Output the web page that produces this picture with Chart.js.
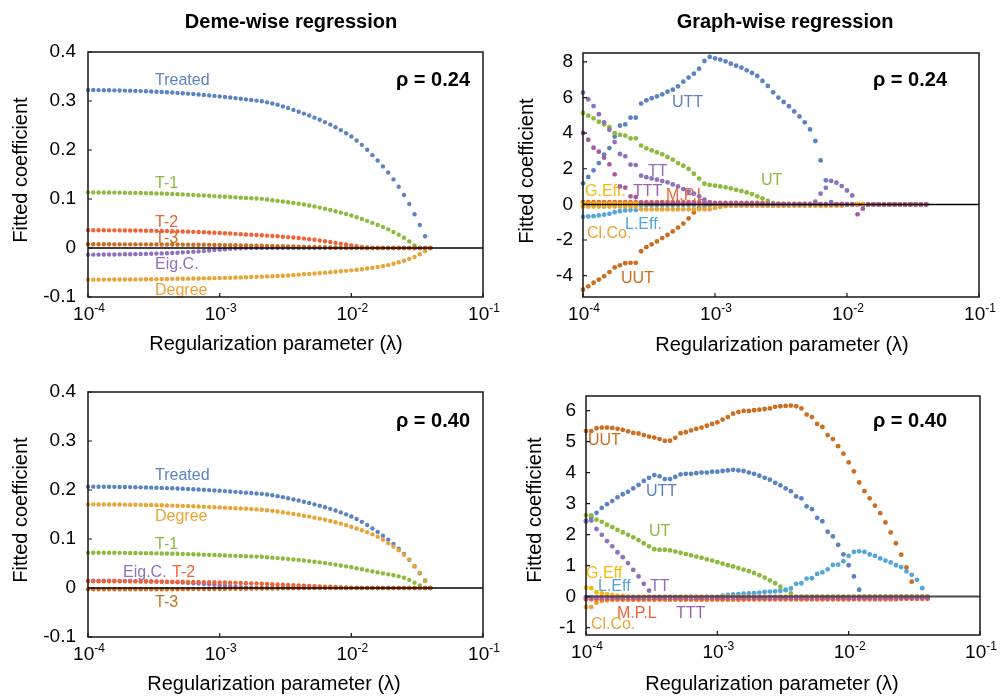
<!DOCTYPE html>
<html><head><meta charset="utf-8">
<script src="https://cdn.jsdelivr.net/npm/chart.js@4/dist/chart.umd.min.js"></script>
<style>
html,body{margin:0;padding:0;background:#fff;width:1000px;height:696px;overflow:hidden}
canvas{position:absolute;left:0;top:0;width:1000px;height:696px}
</style></head>
<body>
<canvas id="c1" width="1000" height="696"></canvas>
<canvas id="c2" width="1000" height="696"></canvas>
<canvas id="c3" width="1000" height="696"></canvas>
<canvas id="c4" width="1000" height="696"></canvas>
<script>
// ---------------- DATA ----------------
const LOG10_LAMBDA = [
-4.00,-3.96,-3.92,-3.88,-3.84,-3.80,-3.76,-3.72,-3.68,-3.64,
-3.60,-3.56,-3.52,-3.48,-3.44,-3.40,-3.36,-3.32,-3.28,-3.24,
-3.20,-3.16,-3.12,-3.08,-3.04,-3.00,-2.96,-2.92,-2.88,-2.84,
-2.80,-2.76,-2.72,-2.68,-2.64,-2.60,-2.56,-2.52,-2.48,-2.44,
-2.40,-2.36,-2.32,-2.28,-2.24,-2.20,-2.16,-2.12,-2.08,-2.04,
-2.00,-1.96,-1.92,-1.88,-1.84,-1.80,-1.76,-1.72,-1.68,-1.64,
-1.60,-1.56,-1.52,-1.48,-1.44,-1.40];

const X_TICKS = [1e-4, 1e-3, 1e-2, 1e-1];
const X_TICK_BASE = '10';
const X_TICK_EXP = ['-4', '-3', '-2', '-1'];
const DEME_Y_TICKS = [-0.1, 0, 0.1, 0.2, 0.3, 0.4];
const DEME_Y_LABELS = ['-0.1', '0', '0.1', '0.2', '0.3', '0.4'];
const G24_Y_TICKS = [-4, -2, 0, 2, 4, 6, 8];
const G24_Y_LABELS = ['-4', '-2', '0', '2', '4', '6', '8'];
const G40_Y_TICKS = [-1, 0, 1, 2, 3, 4, 5, 6];
const G40_Y_LABELS = ['-1', '0', '1', '2', '3', '4', '5', '6'];

// Deme-wise, rho = 0.24
const DW24_TREATED = [
.3224,.3223,.3222,.3221,.3219,.3217,.3215,.3212,.3209,.3206,
.3202,.3198,.3194,.3189,.3184,.3178,.3172,.3165,.3158,.3150,
.3142,.3133,.3124,.3114,.3104,.3094,.3083,.3071,.3059,.3046,
.3034,.3021,.3008,.2994,.2972,.2950,.2923,.2890,.2855,.2818,
.2782,.2743,.2703,.2660,.2616,.2569,.2518,.2465,.2406,.2343,
.2275,.2195,.2105,.2005,.1895,.1785,.1665,.1540,.1400,.1250,
.1082,.0898,.0688,.0469,.0239,0];
const DW24_T1 = [
.1136,.1135,.1134,.1133,.1132,.1131,.1130,.1128,.1126,.1124,
.1122,.1120,.1117,.1114,.1111,.1107,.1103,.1099,.1094,.1089,
.1084,.1078,.1072,.1066,.1059,.1052,.1046,.1040,.1034,.1028,
.1022,.1016,.1010,.1003,.0990,.0976,.0962,.0948,.0934,.0920,
.0905,.0887,.0867,.0846,.0824,.0800,.0776,.0750,.0722,.0694,
.0662,.0628,.0593,.0554,.0513,.0471,.0428,.0381,.0328,.0272,
.0210,.0135,.0050,0,0,0];
const DW24_T2 = [
.0362,.0362,.0361,.0361,.0360,.0360,.0359,.0358,.0357,.0356,
.0355,.0353,.0352,.0350,.0348,.0346,.0343,.0340,.0337,.0334,
.0330,.0326,.0322,.0317,.0312,.0307,.0301,.0295,.0289,.0283,
.0277,.0271,.0265,.0259,.0253,.0246,.0239,.0231,.0222,.0213,
.0203,.0192,.0180,.0167,.0153,.0138,.0122,.0105,.0088,.0071,
.0054,.0038,.0023,.0010,.0003,0,0,0,0,0,
0,0,0,0,0,0];
const DW24_T3 = [
.0076,.0076,.0076,.0076,.0076,.0075,.0075,.0075,.0075,.0074,
.0074,.0074,.0073,.0073,.0072,.0072,.0071,.0070,.0069,.0068,
.0067,.0066,.0065,.0064,.0062,.0061,.0059,.0057,.0055,.0053,
.0051,.0049,.0047,.0045,.0043,.0040,.0038,.0035,.0033,.0030,
.0027,.0025,.0022,.0019,.0017,.0014,.0012,.0010,.0008,.0006,
.0004,.0003,.0002,.0001,0,0,0,0,0,0,
0,0,0,0,0,0];
const DW24_EIGC = [
-.0136,-.0136,-.0135,-.0134,-.0133,-.0132,-.0131,-.0129,-.0127,-.0125,
-.0123,-.0120,-.0117,-.0114,-.0110,-.0106,-.0101,-.0096,-.0090,-.0084,
-.0077,-.0069,-.0061,-.0052,-.0043,-.0034,-.0025,-.0017,-.0010,-.0005,
-.0002,0,0,0,0,0,0,0,0,0,
0,0,0,0,0,0,0,0,0,0,
0,0,0,0,0,0,0,0,0,0,
0,0,0,0,0,0];
const DW24_DEGREE = [
-.0646,-.0646,-.0646,-.0645,-.0645,-.0644,-.0644,-.0643,-.0642,-.0641,
-.0640,-.0639,-.0638,-.0636,-.0635,-.0633,-.0631,-.0629,-.0627,-.0625,
-.0623,-.0621,-.0619,-.0617,-.0615,-.0612,-.0609,-.0606,-.0603,-.0600,
-.0597,-.0593,-.0589,-.0585,-.0580,-.0575,-.0570,-.0565,-.0560,-.0552,
-.0544,-.0537,-.0529,-.0520,-.0511,-.0503,-.0494,-.0485,-.0476,-.0466,
-.0456,-.0445,-.0433,-.0419,-.0404,-.0388,-.0370,-.0350,-.0320,-.0290,
-.0259,-.0222,-.0184,-.0129,-.0061,0];

// Deme-wise, rho = 0.40
const DW40_TREATED = [
.2068,.2068,.2067,.2066,.2065,.2064,.2062,.2061,.2059,.2057,
.2054,.2052,.2049,.2046,.2043,.2039,.2035,.2030,.2026,.2021,
.2016,.2010,.2004,.1998,.1991,.1985,.1978,.1970,.1962,.1954,
.1946,.1938,.1930,.1921,.1907,.1892,.1875,.1854,.1831,.1808,
.1785,.1760,.1734,.1706,.1678,.1648,.1615,.1581,.1543,.1503,
.1459,.1408,.1350,.1286,.1216,.1145,.1068,.0988,.0898,.0802,
.0694,.0576,.0441,.0301,.0153,0];
const DW40_DEGREE = [
.1707,.1707,.1706,.1706,.1705,.1704,.1703,.1702,.1700,.1699,
.1697,.1695,.1693,.1691,.1688,.1685,.1682,.1679,.1676,.1672,
.1668,.1664,.1659,.1655,.1649,.1645,.1640,.1634,.1628,.1622,
.1616,.1610,.1604,.1597,.1586,.1575,.1562,.1547,.1529,.1512,
.1495,.1476,.1457,.1436,.1415,.1392,.1367,.1342,.1313,.1283,
.1250,.1215,.1178,.1140,.1095,.1045,.0985,.0915,.0845,.0770,
.0680,.0580,.0450,.0310,.0140,0];
const DW40_T1 = [
.0721,.0720,.0720,.0719,.0718,.0718,.0717,.0716,.0715,.0713,
.0712,.0711,.0709,.0707,.0705,.0703,.0700,.0698,.0694,.0691,
.0688,.0684,.0680,.0677,.0672,.0668,.0664,.0660,.0656,.0652,
.0649,.0645,.0641,.0637,.0628,.0619,.0610,.0601,.0592,.0583,
.0573,.0561,.0549,.0536,.0523,.0508,.0493,.0477,.0460,.0442,
.0423,.0403,.0382,.0360,.0339,.0318,.0298,.0279,.0260,.0238,
.0210,.0163,.0109,.0054,0,0];
const DW40_EIGC = [
.0150,.0150,.0149,.0149,.0148,.0147,.0146,.0145,.0143,.0141,
.0139,.0137,.0134,.0131,.0128,.0124,.0120,.0115,.0110,.0104,
.0098,.0091,.0083,.0075,.0066,.0057,.0047,.0037,.0027,.0018,
.0010,.0004,0,0,0,0,0,0,0,0,
0,0,0,0,0,0,0,0,0,0,
0,0,0,0,0,0,0,0,0,0,
0,0,0,0,0,0];
const DW40_T2 = [
.0138,.0138,.0138,.0137,.0137,.0137,.0136,.0136,.0135,.0135,
.0134,.0133,.0133,.0132,.0131,.0130,.0129,.0128,.0127,.0125,
.0124,.0122,.0120,.0118,.0116,.0114,.0111,.0108,.0105,.0102,
.0099,.0095,.0091,.0087,.0083,.0079,.0074,.0069,.0064,.0059,
.0054,.0049,.0044,.0039,.0034,.0029,.0024,.0019,.0015,.0011,
.0008,.0005,.0003,.0001,0,0,0,0,0,0,
0,0,0,0,0,0];
const DW40_T3 = [
-.0028,-.0028,-.0028,-.0028,-.0028,-.0027,-.0027,-.0027,-.0027,-.0027,
-.0026,-.0026,-.0026,-.0025,-.0025,-.0025,-.0024,-.0024,-.0023,-.0023,
-.0022,-.0022,-.0021,-.0020,-.0020,-.0019,-.0018,-.0017,-.0016,-.0015,
-.0014,-.0013,-.0012,-.0011,-.0010,-.0009,-.0008,-.0007,-.0006,-.0005,
-.0004,-.0003,-.0003,-.0002,-.0002,-.0001,-.0001,0,0,0,
0,0,0,0,0,0,0,0,0,0,
0,0,0,0,0,0];

// Graph-wise, rho = 0.24
const GW24_UTT = [
1.18,1.54,1.91,2.32,2.79,3.16,3.80,4.42,4.49,4.87,
4.87,5.66,5.84,5.96,6.07,6.18,6.33,6.44,6.63,6.89,
7.12,7.34,7.62,8.05,8.28,8.20,8.13,8.03,7.90,7.79,
7.68,7.53,7.38,7.21,6.93,6.65,6.29,6.00,5.75,5.51,
5.22,4.94,4.61,4.21,3.56,2.47,1.35,0.13,0,0,
0,0,0,0,0,0,0,0,0,0,
0,0,0,0,0,0];
const GW24_TT = [
6.27,5.90,5.52,5.06,4.61,4.19,3.50,2.83,2.70,2.23,
2.21,1.61,1.53,1.46,1.39,1.31,1.24,1.12,1.01,0.86,
0.71,0.60,0.45,0.26,0.10,0.02,0,0,0,0,
0,0,0,0,0,0,0,0,0,0,
0,0,0,0,0.15,0.60,0.93,1.32,1.22,1.03,
0.78,0.50,0,0,0,0,0,0,0,0,
0,0,0,0,0,0];
const GW24_TTT = [
4.01,3.63,3.18,2.96,2.62,2.25,1.69,1.01,0.94,0.45,
0.41,0.10,0.06,0.05,0.05,0.05,0.05,0.05,0.05,0.05,
0.05,0.05,0.05,0.05,0.05,0.05,0.05,0.05,0.05,0.05,
0.04,0.04,0.04,0.04,0.03,0.03,0.03,0.03,0.02,0.02,
0.02,0.02,0.02,0.02,0.02,0.01,0.01,0.01,0.01,0.01,
0.01,0.01,-0.56,-0.24,0,0,0,0,0,0,
0,0,0,0,0,0];
const GW24_UT = [
5.13,4.98,4.83,4.64,4.49,4.34,4.00,3.90,3.86,3.71,
3.71,3.30,3.15,3.03,2.92,2.81,2.66,2.51,2.32,2.17,
1.99,1.72,1.45,1.16,1.09,1.05,1.01,0.96,0.90,0.82,
0.75,0.67,0.58,0.45,0.34,0.19,0.06,0,0,0,
0,0,0,0,0,0,0,0,0,0,
0,0,0,0,0,0,0,0,0,0,
0,0,0,0,0,0];
const GW24_UUT = [
-4.79,-4.60,-4.40,-4.22,-4.03,-3.80,-3.54,-3.42,-3.30,-3.28,
-3.28,-2.63,-2.40,-2.25,-2.08,-1.89,-1.72,-1.52,-1.30,-1.08,
-0.79,-0.45,-0.19,-0.08,-0.05,-0.05,-0.05,-0.05,-0.05,-0.05,
-0.05,-0.05,-0.05,-0.05,-0.05,-0.05,-0.05,-0.05,-0.05,-0.05,
-0.04,-0.04,-0.04,-0.04,-0.03,-0.03,-0.03,-0.02,-0.02,-0.02,
0,0,0,0,0,0,0,0,0,0,
0,0,0,0,0,0];
const GW24_GEFF = [
0.03,0.03,0.03,0.03,0.03,0.03,0.03,0.03,0.03,0.03,
0.03,0.03,0.03,0.03,0.03,0.03,0.03,0.03,0.03,0.03,
0.02,0.02,0.02,0.02,0.02,0.02,0.02,0.02,0.02,0.02,
0.02,0.02,0.02,0.02,0.02,0.02,0.02,0.02,0.02,0.02,
0.01,0.01,0.01,0.01,0.01,0.01,0.01,0.01,0.01,0.01,
0.01,0.01,0.01,0.01,0,0,0,0,0,0,
0,0,0,0,0,0];
const GW24_LEFF = [
-0.70,-0.68,-0.66,-0.62,-0.58,-0.53,-0.44,-0.38,-0.34,-0.32,
-0.32,-0.06,-0.05,-0.05,-0.05,-0.05,-0.05,-0.05,-0.04,-0.04,
-0.04,-0.04,-0.04,-0.03,-0.03,-0.03,-0.03,-0.02,-0.02,-0.02,
0,0,0,0,0,0,0,0,0,0,
0,0,0,0,0,0,0,0,0,0,
0,0,0,0,0,0,0,0,0,0,
0,0,0,0,0,0];
const GW24_CLCO = [
-0.12,-0.12,-0.12,-0.12,-0.12,-0.12,-0.12,-0.12,-0.12,-0.12,
-0.12,-0.28,-0.28,-0.28,-0.28,-0.28,-0.28,-0.28,-0.28,-0.28,
-0.28,-0.28,-0.28,-0.28,-0.28,-0.20,-0.14,-0.10,-0.07,-0.07,
-0.07,-0.07,-0.07,-0.07,-0.07,-0.07,-0.07,-0.07,-0.07,-0.07,
-0.07,-0.07,-0.07,-0.07,-0.07,-0.07,-0.07,-0.07,-0.07,-0.07,
0,0,0,0,0,0,0,0,0,0,
0,0,0,0,0,0];
const GW24_MPL = [
0.12,0.12,0.12,0.12,0.12,0.12,0.12,0.12,0.12,0.12,
0.12,0.12,0.12,0.12,0.12,0.12,0.12,0.12,0.12,0.12,
0.12,0.12,0.12,0.12,0.12,0.08,0.08,0.08,0.08,0.08,
0.08,0.08,0.08,0.08,0.08,0.03,0.03,0.03,0.03,0.03,
0.03,0.03,0.03,0.03,0.03,0,0,0,0,0,
0,0,0,0,0,0,0,0,0,0,
0,0,0,0,0,0];

// Graph-wise, rho = 0.40
const GW40_UUT = [
5.34,5.34,5.43,5.45,5.45,5.44,5.41,5.38,5.33,5.28,
5.26,5.21,5.16,5.13,5.08,5.02,5.03,5.12,5.27,5.30,
5.36,5.41,5.45,5.51,5.57,5.62,5.71,5.79,5.90,5.95,
5.99,5.99,6.01,6.03,6.05,6.07,6.12,6.14,6.15,6.16,
6.14,6.07,5.87,5.79,5.57,5.47,5.21,5.08,4.85,4.61,
4.33,4.04,3.68,3.40,3.17,2.93,2.69,2.39,2.07,1.72,
1.35,0.94,0.48,-0.05,-0.05,-0.05];
const GW40_UTT = [
2.42,2.55,2.70,2.86,2.98,3.08,3.20,3.30,3.38,3.49,
3.60,3.73,3.83,3.92,3.88,3.79,3.79,3.86,3.94,3.96,
3.96,3.98,4.00,4.00,4.03,4.03,4.05,4.07,4.09,4.07,
4.05,4.00,3.96,3.90,3.83,3.77,3.67,3.59,3.49,3.40,
3.23,3.17,2.91,2.82,2.54,2.43,2.09,1.94,1.67,1.36,
1.01,0.65,0.22,0,0,0,0,0,0,0,
0,0,0,0,0,0];
const GW40_UT = [
2.62,2.62,2.48,2.41,2.32,2.24,2.15,2.07,1.99,1.91,
1.82,1.72,1.62,1.53,1.51,1.51,1.49,1.45,1.41,1.37,
1.33,1.29,1.25,1.20,1.16,1.11,1.06,1.01,0.97,0.92,
0.87,0.82,0.76,0.69,0.61,0.52,0.43,0.32,0.20,0.10,
0,0,0,0,0,0,0,0,0,0,
0,0,0,0,0,0,0,0,0,0,
0,0,0,0,0,0];
const GW40_TT = [
2.45,2.45,2.18,1.99,1.79,1.62,1.43,1.27,1.08,0.86,
0.65,0.41,0.19,-0.02,-0.02,-0.02,-0.02,-0.02,-0.02,-0.02,
-0.02,-0.02,-0.02,-0.02,-0.02,-0.02,-0.02,-0.02,-0.02,-0.02,
-0.02,-0.02,-0.02,-0.02,-0.02,-0.02,-0.02,-0.02,-0.02,-0.02,
-0.02,-0.02,-0.02,-0.02,-0.02,-0.02,-0.02,-0.02,-0.02,-0.02,
-0.02,-0.02,-0.02,-0.02,-0.02,-0.02,-0.02,-0.02,-0.02,-0.02,
-0.02,-0.02,-0.02,-0.02,-0.02,-0.02];
const GW40_LEFF = [
-0.02,-0.02,-0.02,-0.02,-0.02,-0.02,-0.02,-0.02,-0.02,-0.02,
-0.02,-0.02,-0.02,-0.02,-0.02,-0.02,-0.02,-0.02,-0.02,-0.02,
-0.02,-0.02,-0.02,-0.02,-0.02,-0.02,0.03,0.05,0.07,0.08,
0.09,0.10,0.11,0.13,0.15,0.16,0.17,0.18,0.22,0.26,
0.41,0.43,0.58,0.59,0.73,0.78,0.88,1.02,1.03,1.14,
1.31,1.44,1.46,1.44,1.36,1.31,1.23,1.16,1.10,1.01,
0.95,0.81,0.70,0.54,0.27,-0.02];
const GW40_GEFF = [
0.29,0.27,0.14,0.10,0.07,0.05,0.03,0.02,0,0,
0,0,0,0,0,0,0,0,0,0,
0,0,0,0,0,0,0,0,0,0,
0,0,0,0,0,0,0,0,0,0,
0,0,0,0,0,0,0,0,0,0,
0,0,0,0,0,0,0,0,0,0,
0,0,0,0,0,0];
const GW40_CLCO = [
-0.34,-0.34,-0.20,-0.14,-0.12,-0.10,-0.10,-0.10,-0.10,-0.10,
-0.10,-0.10,-0.10,-0.10,-0.10,-0.10,-0.10,-0.10,-0.10,-0.10,
-0.10,-0.10,-0.10,-0.10,-0.10,-0.10,-0.10,-0.10,-0.10,-0.10,
-0.10,-0.08,-0.08,-0.08,-0.08,-0.08,-0.08,-0.08,-0.08,-0.08,
-0.08,-0.08,-0.08,-0.08,-0.08,-0.08,-0.08,-0.08,-0.08,-0.08,
-0.08,-0.06,-0.06,-0.06,-0.06,-0.06,-0.06,-0.06,-0.06,-0.06,
-0.06,-0.06,-0.06,-0.06,-0.06,-0.06];
const GW40_MPL = [
-0.09,-0.09,-0.09,-0.09,-0.09,-0.09,-0.09,-0.09,-0.09,-0.09,
-0.09,-0.09,-0.09,-0.09,-0.09,-0.09,-0.09,-0.09,-0.09,-0.09,
-0.09,-0.09,-0.09,-0.09,-0.09,-0.09,-0.09,-0.09,-0.09,-0.09,
-0.09,-0.09,-0.09,-0.09,-0.09,-0.09,-0.09,-0.09,-0.09,-0.09,
-0.09,-0.09,-0.09,-0.09,-0.09,-0.09,-0.09,-0.09,-0.09,-0.09,
-0.09,-0.09,-0.09,-0.09,-0.09,-0.09,-0.09,-0.09,-0.09,-0.09,
-0.07,-0.07,-0.07,-0.07,-0.07,-0.07];
const GW40_TTT = [
-0.03,-0.03,-0.03,-0.03,-0.03,-0.03,-0.03,-0.03,-0.03,-0.03,
-0.03,-0.03,-0.03,-0.03,-0.03,-0.03,-0.03,-0.03,-0.03,-0.03,
-0.03,-0.03,-0.03,-0.03,-0.03,-0.03,-0.03,-0.03,-0.03,-0.03,
-0.03,-0.03,-0.03,-0.03,-0.03,-0.03,-0.03,-0.03,-0.03,-0.03,
-0.03,-0.03,-0.03,-0.03,-0.03,-0.03,-0.03,-0.03,-0.03,-0.03,
-0.03,-0.03,-0.03,-0.03,-0.03,-0.03,-0.03,-0.03,-0.03,-0.03,
-0.03,-0.03,-0.03,-0.03,-0.03,-0.03];

// ---------------- STYLE ----------------
const FONT = '"Liberation Sans", Arial, Helvetica, sans-serif';
const C = {
  blue: '#5b83c4', green: '#8cba3e', red: '#ef6336', dkorange: '#cc6d1f',
  purple: '#8e70bd', orange: '#eaa335', yellow: '#f7b70c', ltblue: '#52a6d8',
  magenta: '#a659a6', tttLabel: '#9f60b4'
};
const Y_SCALE_W = 80;

function pts(vals) {
  return LOG10_LAMBDA.map((e, i) => ({ x: Math.pow(10, e), y: vals[i] }));
}
function ds(vals, color, r) {
  return { data: pts(vals), backgroundColor: color, borderWidth: 0, pointRadius: r,
           pointHoverRadius: r, showLine: false, clip: false };
}

const decor = {
  id: 'decor',
  beforeDatasetsDraw(chart, args, o) {
    const ctx = chart.ctx;
    ctx.save();
    ctx.font = '16px ' + FONT;
    ctx.textAlign = 'left'; ctx.textBaseline = 'alphabetic';
    o.labels.forEach(l => { ctx.fillStyle = l.c; ctx.fillText(l.t, l.x, l.y); });
    ctx.restore();
  },
  afterDraw(chart, args, o) {
    const { ctx, chartArea: a, scales: { x, y } } = chart;
    ctx.save();
    // zero line
    const y0 = y.getPixelForValue(0);
    ctx.strokeStyle = o.zeroColor; ctx.lineWidth = o.zeroWidth;
    ctx.beginPath(); ctx.moveTo(a.left, y0); ctx.lineTo(a.right, y0); ctx.stroke();
    // frame
    ctx.strokeStyle = '#161616'; ctx.lineWidth = 1.5;
    ctx.strokeRect(a.left, a.top, a.right - a.left, a.bottom - a.top);
    // inward tick marks
    ctx.lineWidth = 1.2; ctx.beginPath();
    x.ticks.forEach(t => { const px = x.getPixelForValue(t.value); ctx.moveTo(px, a.bottom); ctx.lineTo(px, a.bottom - 4); });
    y.ticks.forEach(t => { const py = y.getPixelForValue(t.value); ctx.moveTo(a.left, py); ctx.lineTo(a.left + 4, py); });
    ctx.stroke();
    // x tick labels: 10 with superscript exponent
    ctx.fillStyle = '#000'; ctx.textAlign = 'left'; ctx.textBaseline = 'alphabetic';
    x.ticks.forEach((t, i) => {
      const px = x.getPixelForValue(t.value);
      ctx.font = '19px ' + FONT; const wb = ctx.measureText(X_TICK_BASE).width;
      ctx.font = '12px ' + FONT; const we = ctx.measureText(X_TICK_EXP[i]).width;
      const x0 = px - (wb + we) / 2 + 1;
      const by = a.bottom + 23;
      ctx.font = '19px ' + FONT; ctx.fillText(X_TICK_BASE, x0, by);
      ctx.font = '12px ' + FONT; ctx.fillText(X_TICK_EXP[i], x0 + wb, by - 8);
    });
    // x axis title
    ctx.font = '20px ' + FONT; ctx.textAlign = 'center';
    ctx.fillText('Regularization parameter (\u03bb)', o.xTitle[0], o.xTitle[1]);
    // y axis title
    ctx.save();
    ctx.translate(o.yTitle[0], o.yTitle[1]); ctx.rotate(-Math.PI / 2);
    ctx.textBaseline = 'middle'; ctx.fillText('Fitted coefficient', 0, 0);
    ctx.restore();
    // panel title
    if (o.title) {
      ctx.font = 'bold 20px ' + FONT; ctx.textAlign = 'center'; ctx.textBaseline = 'alphabetic';
      ctx.fillText(o.title[0], o.title[1], o.title[2]);
    }
    // rho
    ctx.font = 'bold 20px ' + FONT; ctx.textAlign = 'right'; ctx.textBaseline = 'alphabetic';
    ctx.fillText(o.rho[0], o.rho[1], o.rho[2]);
    ctx.restore();
  }
};

function makeChart(id, area, yr, yTicks, yLabels, yPad, datasets, deco) {
  new Chart(document.getElementById(id), {
    type: 'scatter',
    data: { datasets },
    options: {
      responsive: false, animation: false, devicePixelRatio: 1, events: [],
      layout: { padding: { left: area.l - Y_SCALE_W, top: area.t, right: 1000 - area.r, bottom: 696 - area.b - 10 } },
      scales: {
        x: {
          type: 'logarithmic', min: 1e-4, max: 1e-1,
          grid: { display: false, drawTicks: false }, border: { display: false },
          ticks: { display: false },
          afterBuildTicks: s => { s.ticks = X_TICKS.map(v => ({ value: v })); },
          afterFit: s => { s.height = 10; }
        },
        y: {
          min: yr[0], max: yr[1],
          grid: { display: false, drawTicks: false }, border: { display: false },
          ticks: { color: '#000', padding: yPad, autoSkip: false, font: { family: FONT, size: 19 },
                   callback: (v, i) => yLabels[i] },
          afterBuildTicks: s => { s.ticks = yTicks.map(v => ({ value: v })); },
          afterFit: s => { s.width = Y_SCALE_W; }
        }
      },
      plugins: { legend: { display: false }, tooltip: { enabled: false }, decor: deco }
    },
    plugins: [decor]
  });
}

// Top-left: deme-wise, rho 0.24
makeChart('c1', { l: 88, t: 52, r: 483, b: 297 }, [-0.1, 0.4], DEME_Y_TICKS, DEME_Y_LABELS, 12, [
  ds(DW24_T3, C.dkorange, 2.2), ds(DW24_DEGREE, C.orange, 2.2), ds(DW24_T2, C.red, 2.2),
  ds(DW24_EIGC, C.purple, 2.2), ds(DW24_T1, C.green, 2.2), ds(DW24_TREATED, C.blue, 2.2)
], {
  zeroColor: '#000', zeroWidth: 1.5, xTitle: [276, 350], yTitle: [21, 170],
  title: ['Deme-wise regression', 291, 28], rho: ['\u03c1 = 0.24', 470, 86],
  labels: [
    { t: 'Treated', x: 155, y: 85, c: C.blue }, { t: 'T-1', x: 155, y: 188, c: C.green },
    { t: 'T-2', x: 155, y: 227, c: C.red }, { t: 'T-3', x: 155, y: 243, c: C.dkorange },
    { t: 'Eig.C.', x: 155, y: 269, c: C.purple }, { t: 'Degree', x: 155, y: 295, c: C.orange }
  ]
});

// Top-right: graph-wise, rho 0.24
makeChart('c2', { l: 583, t: 53, r: 979, b: 297 }, [-5.2, 8.5], G24_Y_TICKS, G24_Y_LABELS, 10, [
  ds(GW24_TTT, C.magenta, 2.4), ds(GW24_GEFF, C.yellow, 2.4), ds(GW24_TT, C.purple, 2.4),
  ds(GW24_MPL, C.red, 2.4), ds(GW24_CLCO, C.orange, 2.4), ds(GW24_LEFF, C.ltblue, 2.4),
  ds(GW24_UUT, C.dkorange, 2.4), ds(GW24_UT, C.green, 2.4), ds(GW24_UTT, C.blue, 2.4)
], {
  zeroColor: '#000', zeroWidth: 1.5, xTitle: [782, 351], yTitle: [527, 171],
  title: ['Graph-wise regression', 785, 28], rho: ['\u03c1 = 0.24', 947, 86],
  labels: [
    { t: 'UTT', x: 672, y: 107, c: C.blue }, { t: 'TT', x: 648, y: 176, c: C.purple },
    { t: 'UT', x: 761, y: 185, c: C.green }, { t: 'G.Eff.', x: 585, y: 196, c: C.yellow },
    { t: 'TTT', x: 633, y: 196, c: C.tttLabel }, { t: 'M.P.L', x: 666, y: 200, c: C.red },
    { t: 'L.Eff.', x: 625, y: 229, c: C.ltblue }, { t: 'Cl.Co.', x: 587, y: 238, c: C.orange },
    { t: 'UUT', x: 621, y: 283, c: C.dkorange }
  ]
});

// Bottom-left: deme-wise, rho 0.40
makeChart('c3', { l: 88, t: 392, r: 483, b: 637 }, [-0.1, 0.4], DEME_Y_TICKS, DEME_Y_LABELS, 12, [
  ds(DW40_T3, C.dkorange, 2.2), ds(DW40_T2, C.red, 2.2), ds(DW40_EIGC, C.purple, 2.2),
  ds(DW40_T1, C.green, 2.2), ds(DW40_DEGREE, C.orange, 2.2), ds(DW40_TREATED, C.blue, 2.2)
], {
  zeroColor: '#000', zeroWidth: 1.5, xTitle: [274, 690], yTitle: [21, 510],
  title: null, rho: ['\u03c1 = 0.40', 470, 427],
  labels: [
    { t: 'Treated', x: 155, y: 480, c: C.blue }, { t: 'Degree', x: 155, y: 521, c: C.orange },
    { t: 'T-1', x: 155, y: 549, c: C.green }, { t: 'Eig.C.', x: 123, y: 577, c: C.purple },
    { t: 'T-2', x: 172, y: 577, c: C.red }, { t: 'T-3', x: 155, y: 607, c: C.dkorange }
  ]
});

// Bottom-right: graph-wise, rho 0.40
makeChart('c4', { l: 586, t: 396, r: 980, b: 635 }, [-1.24, 6.47], G40_Y_TICKS, G40_Y_LABELS, 10, [
  ds(GW40_TTT, C.magenta, 2.4), ds(GW40_MPL, C.red, 2.4), ds(GW40_TT, C.purple, 2.4),
  ds(GW40_CLCO, C.orange, 2.4), ds(GW40_GEFF, C.yellow, 2.4), ds(GW40_LEFF, C.ltblue, 2.4),
  ds(GW40_UT, C.green, 2.4), ds(GW40_UTT, C.blue, 2.4), ds(GW40_UUT, C.dkorange, 2.4)
], {
  zeroColor: '#4a4a4a', zeroWidth: 2, xTitle: [772, 690], yTitle: [535, 510],
  title: null, rho: ['\u03c1 = 0.40', 947, 427],
  labels: [
    { t: 'UUT', x: 588, y: 445, c: C.dkorange }, { t: 'UTT', x: 646, y: 496, c: C.blue },
    { t: 'UT', x: 649, y: 536, c: C.green }, { t: 'G.Eff', x: 586, y: 578, c: C.yellow },
    { t: 'L.Eff', x: 598, y: 591, c: C.ltblue }, { t: 'TT', x: 650, y: 591, c: C.purple },
    { t: 'M.P.L', x: 617, y: 618, c: C.red }, { t: 'TTT', x: 676, y: 618, c: C.tttLabel },
    { t: 'Cl.Co.', x: 591, y: 629, c: C.orange }
  ]
});
</script>
</body></html>
